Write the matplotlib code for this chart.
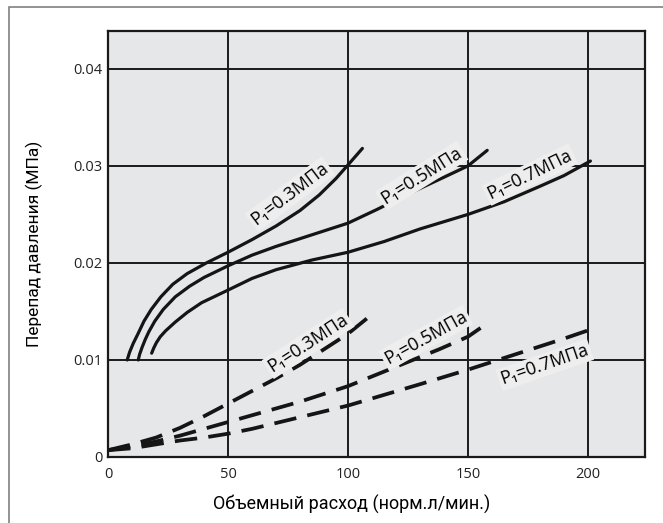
import numpy as np
import matplotlib.pyplot as plt
from matplotlib.patches import Rectangle

plt.rcParams['font.family'] = ['Open Sans', 'DejaVu Sans']

# solid curves
s03_x = [8, 9, 10.5, 12.5, 15, 18, 22, 27, 33, 41, 50, 60, 70, 80, 88, 95, 100, 106]
s03_y = [0.0100, 0.0108, 0.0117, 0.0127, 0.0140, 0.0152, 0.0165, 0.0178, 0.0189, 0.0200,
         0.0211, 0.0224, 0.0238, 0.0254, 0.0270, 0.0287, 0.0301, 0.0318]
s05_x = [12.6, 13.2, 14.2, 15.5, 17, 19.5, 23, 28, 34, 40, 50, 60, 70, 85, 100, 112, 125, 138, 150, 158]
s05_y = [0.0100, 0.0106, 0.0113, 0.0121, 0.0129, 0.0140, 0.0152, 0.0165, 0.0176, 0.0185,
         0.0197, 0.0208, 0.0217, 0.0229, 0.0241, 0.0255, 0.0271, 0.0286, 0.0300, 0.0316]
s07_x = [18.2, 19, 20.2, 21.8, 24, 28, 33, 39, 50, 60, 70, 85, 100, 115, 130, 150, 165, 180, 190, 201]
s07_y = [0.0107, 0.0112, 0.0118, 0.0124, 0.0130, 0.0139, 0.0149, 0.0159, 0.0172, 0.0184,
         0.0193, 0.0203, 0.0211, 0.0222, 0.0235, 0.0250, 0.0263, 0.0279, 0.0290, 0.0305]

# dashed curves
d03_x = [0, 10, 20, 30, 40, 50, 60, 70, 80, 90, 100, 108]
d03_y = [0.0007, 0.0013, 0.0020, 0.0030, 0.0042, 0.0055, 0.0068, 0.0081, 0.0095, 0.0111, 0.0127, 0.0143]
d05_x = [0, 10, 20, 30, 40, 50, 60, 70, 80, 90, 100, 112, 125, 138, 150, 157]
d05_y = [0.0007, 0.0011, 0.0016, 0.0022, 0.0029, 0.0036, 0.0043, 0.0050, 0.0057, 0.0065,
         0.0073, 0.0085, 0.0098, 0.0111, 0.0124, 0.0136]
d07_x = [0, 10, 20, 30, 40, 50, 60, 70, 80, 90, 100, 115, 130, 150, 170, 190, 203]
d07_y = [0.0007, 0.0009, 0.0013, 0.0017, 0.0020, 0.0024, 0.0029, 0.0035, 0.0041, 0.0047,
         0.0053, 0.0064, 0.0075, 0.0090, 0.0106, 0.0122, 0.0133]

labels = ["P₁=0.3МПа", "P₁=0.5МПа", "P₁=0.7МПа"]
solid_lab_pos = [(75.8, 0.0271, 37), (130.7, 0.0290, 32), (175.8, 0.0291, 26)]
dash_lab_pos = [(83.4, 0.0117, 33), (132.4, 0.0123, 29), (182, 0.0095, 19)]

fig = plt.figure(figsize=(6.63, 5.23), dpi=100)
ax = fig.add_axes([108 / 663, 66 / 523, 537 / 663, 426 / 523])
ax.set_facecolor('#e6e7e8')

for xs, ys in [(s03_x, s03_y), (s05_x, s05_y), (s07_x, s07_y)]:
    ax.plot(xs, ys, color='#151515', lw=2.3, solid_capstyle='round', zorder=3)
for xs, ys in [(d03_x, d03_y), (d05_x, d05_y), (d07_x, d07_y)]:
    ax.plot(xs, ys, color='#151515', lw=2.7, dashes=(6, 3), zorder=3)

box = dict(boxstyle='square,pad=0.12', fc='#eeeeee', ec='none')
for lab, (x, y, r) in zip(labels, solid_lab_pos):
    ax.text(x, y, lab, rotation=r, ha='center', va='center', fontsize=13,
            bbox=box, zorder=4, rotation_mode='anchor')
for lab, (x, y, r) in zip(labels, dash_lab_pos):
    ax.text(x, y, lab, rotation=r, ha='center', va='center', fontsize=13,
            bbox=box, zorder=4, rotation_mode='anchor')

ax.set_xlim(0, 223.75)
ax.set_ylim(0, 0.0439)
ax.set_xticks([0, 50, 100, 150, 200])
ax.set_yticks([0, 0.01, 0.02, 0.03, 0.04])
ax.set_yticklabels(['0', '0.01', '0.02', '0.03', '0.04'])
ax.tick_params(length=0, labelsize=10.5, colors='#222222')
ax.tick_params(axis='x', pad=7)
ax.tick_params(axis='y', pad=4)
ax.grid(True, color='#1a1a1a', lw=1.4)
ax.set_axisbelow(True)
for sp in ax.spines.values():
    sp.set_linewidth(1.6)
    sp.set_color('#1a1a1a')

ax.set_xlabel('Объемный расход (норм.л/мин.)', fontsize=13, family='Roboto')
ax.xaxis.set_label_coords((352 - 108) / 537, -0.088)
ax.set_ylabel('Перепад давления (МПа)', fontsize=12.5, family='Roboto', labelpad=22)

fig.add_artist(Rectangle((9 / 663, -0.1), 1.0, 1 - 7 / 523 + 0.1, transform=fig.transFigure,
                         fill=False, ec='#808080', lw=1.2))

fig.savefig('out.png', dpi=100)
